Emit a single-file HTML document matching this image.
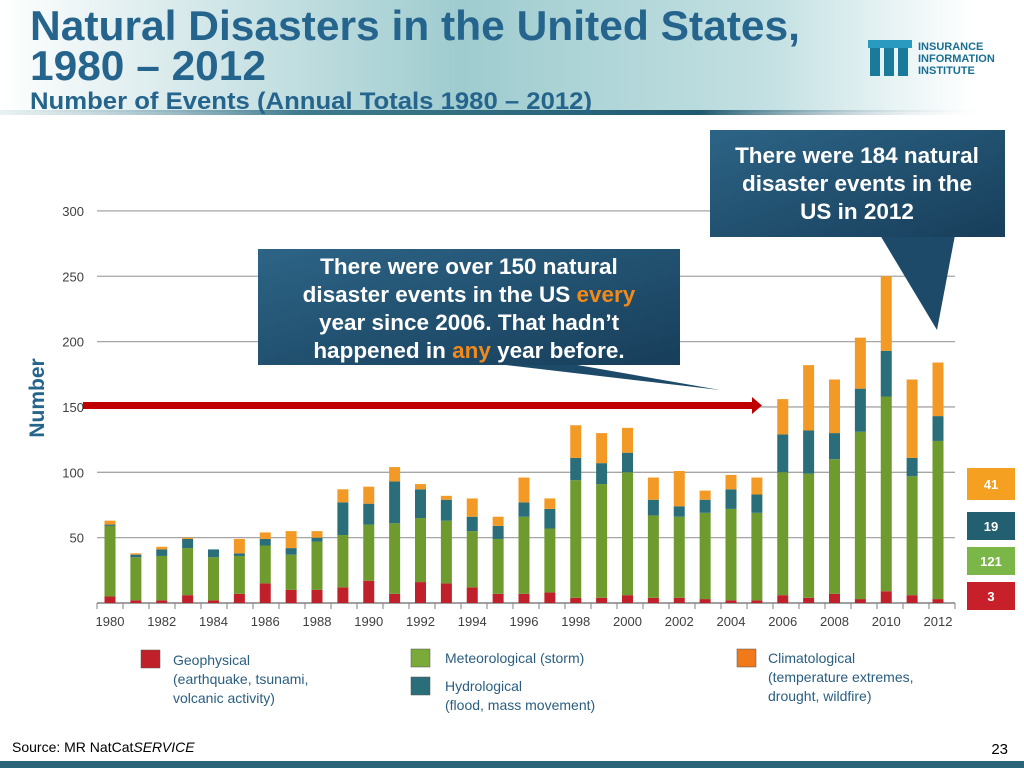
<!DOCTYPE html>
<html><head><meta charset="utf-8"><style>
body{margin:0;width:1024px;height:768px;overflow:hidden;background:#fff;font-family:"Liberation Sans",sans-serif}
</style></head><body>
<svg id="s" width="1024" height="768" viewBox="0 0 1024 768" xmlns="http://www.w3.org/2000/svg" font-family="Liberation Sans, sans-serif">
<defs>
<linearGradient id="hdr" x1="0" x2="1" y1="0" y2="0">
<stop offset="0" stop-color="#ffffff"/><stop offset="0.12" stop-color="#e4f0f1"/><stop offset="0.45" stop-color="#9fcccf"/><stop offset="0.75" stop-color="#c3e0e2"/><stop offset="0.95" stop-color="#ffffff"/>
</linearGradient>
<linearGradient id="hline" x1="0" x2="1"><stop offset="0" stop-color="#b8d0d6" stop-opacity="0.3"/><stop offset="0.3" stop-color="#3f7a8e"/><stop offset="0.7" stop-color="#1f5a70"/><stop offset="1" stop-color="#ffffff" stop-opacity="0"/></linearGradient>
<linearGradient id="box" x1="0" x2="1" y1="0" y2="1"><stop offset="0" stop-color="#2d6486"/><stop offset="1" stop-color="#173e5a"/></linearGradient>
</defs>
<rect x="0" y="0" width="1024" height="112" fill="url(#hdr)"/>
<rect x="0" y="110" width="1000" height="5" fill="url(#hline)"/>
<text x="30" y="40" font-size="42" font-weight="bold" fill="#25648c" textLength="770" lengthAdjust="spacingAndGlyphs">Natural Disasters in the United States,</text>
<text x="30" y="80" font-size="42" font-weight="bold" fill="#25648c" textLength="236" lengthAdjust="spacingAndGlyphs">1980 – 2012</text>
<text x="30" y="109" font-size="24" font-weight="bold" fill="#25648c" textLength="562" lengthAdjust="spacingAndGlyphs">Number of Events (Annual Totals 1980 – 2012)</text>
<g>
<rect x="870" y="40" width="10" height="36" fill="#1a7a9a"/><rect x="884" y="40" width="10" height="36" fill="#1a7a9a"/><rect x="898" y="40" width="10" height="36" fill="#1a7a9a"/>
<rect x="868" y="40" width="44" height="8" fill="#2a9ac0"/>
<text x="918" y="50" font-size="11" font-weight="bold" fill="#1a6f92">INSURANCE</text>
<text x="918" y="62" font-size="11" font-weight="bold" fill="#1a6f92">INFORMATION</text>
<text x="918" y="74" font-size="11" font-weight="bold" fill="#1a6f92">INSTITUTE</text>
</g>
<g id="chart"></g>
<text transform="translate(44,398) rotate(-90)" text-anchor="middle" font-size="21" font-weight="bold" fill="#25648c">Number</text>
<g id="legend">
<g><rect x="141" y="650" width="19" height="18" fill="#c0202a" stroke="#555" stroke-width="0.5"/><text font-size="14" fill="#2a5e80"><tspan x="173" y="665">Geophysical</tspan><tspan x="173" y="684">(earthquake, tsunami,</tspan><tspan x="173" y="703">volcanic activity)</tspan></text></g>
<g><rect x="411" y="649" width="19" height="18" fill="#7aaa3a" stroke="#555" stroke-width="0.5"/><text x="445" y="663" font-size="14" fill="#2a5e80">Meteorological (storm)</text></g>
<g><rect x="411" y="677" width="19" height="18" fill="#2a6e7a" stroke="#555" stroke-width="0.5"/><text font-size="14" fill="#2a5e80"><tspan x="445" y="691">Hydrological</tspan><tspan x="445" y="710">(flood, mass movement)</tspan></text></g>
<g><rect x="737" y="649" width="19" height="18" fill="#f07a1a" stroke="#555" stroke-width="0.5"/><text font-size="14" fill="#2a5e80"><tspan x="768" y="663">Climatological</tspan><tspan x="768" y="682">(temperature extremes,</tspan><tspan x="768" y="701">drought, wildfire)</tspan></text></g>
</g>
<g>
<rect x="967" y="468" width="48" height="32" fill="#f5a020"/><text x="991" y="489" text-anchor="middle" font-size="13" font-weight="bold" fill="#fff">41</text>
<rect x="967" y="512" width="48" height="28" fill="#225f70"/><text x="991" y="531" text-anchor="middle" font-size="13" font-weight="bold" fill="#fff">19</text>
<rect x="967" y="547" width="48" height="28" fill="#7ab648"/><text x="991" y="566" text-anchor="middle" font-size="13" font-weight="bold" fill="#fff">121</text>
<rect x="967" y="582" width="48" height="28" fill="#c8202a"/><text x="991" y="601" text-anchor="middle" font-size="13" font-weight="bold" fill="#fff">3</text>
</g>
<g>
<polygon points="480,362 560,362 720,390" fill="#1c4a68"/>
<rect x="258" y="249" width="422" height="116" fill="url(#box)"/>
<text font-size="22.5" font-weight="bold" fill="#fff" text-anchor="middle"><tspan x="469" y="274">There were over 150 natural</tspan><tspan x="469" y="302">disaster events in the US <tspan fill="#f28a1a">every</tspan></tspan><tspan x="469" y="330">year since 2006. That hadn’t</tspan><tspan x="469" y="358">happened in <tspan fill="#f28a1a">any</tspan> year before.</tspan></text>
</g>
<g>
<polygon points="880,235 955,235 937,330" fill="#1c4a68"/>
<rect x="710" y="130" width="295" height="107" fill="url(#box)"/>
<text font-size="22.5" font-weight="bold" fill="#fff" text-anchor="middle"><tspan x="857" y="163">There were 184 natural</tspan><tspan x="857" y="191">disaster events in the</tspan><tspan x="857" y="219">US in 2012</tspan></text>
</g>
<g><rect x="83" y="402" width="670" height="7" fill="#c00000"/><polygon points="752,397 762,405.5 752,414" fill="#c00000"/></g>
<text x="12" y="752" font-size="14" fill="#000">Source: MR NatCat<tspan font-style="italic">SERVICE</tspan></text>
<text x="1008" y="754" font-size="15" fill="#000" text-anchor="end">23</text>
<rect x="0" y="761" width="1024" height="7" fill="#2a6478"/>
</svg>
<script>
const years=[1980,1981,1982,1983,1984,1985,1986,1987,1988,1989,1990,1991,1992,1993,1994,1995,1996,1997,1998,1999,2000,2001,2002,2003,2004,2005,2006,2007,2008,2009,2010,2011,2012];
const geophysical=[5,2,2,6,2,7,15,10,10,12,17,7,16,15,12,7,7,8,4,4,6,4,4,3,2,2,6,4,7,3,9,6,3];
const meteorological=[54,33,34,36,33,29,29,27,37,40,43,54,49,48,43,42,59,49,90,87,94,63,62,66,70,67,94,95,103,128,149,91,121];
const hydrological=[1,2,5,7,6,2,5,5,3,25,16,32,22,16,11,10,11,15,17,16,15,12,8,10,15,14,29,33,20,33,35,14,19];
const climatological=[3,1,2,1,0,11,5,13,5,10,13,11,4,3,14,7,19,8,25,23,19,17,27,7,11,13,27,50,41,39,57,60,41];
const yTicks=[50,100,150,200,250,300];
const xTickLabels=[1980,1982,1984,1986,1988,1990,1992,1994,1996,1998,2000,2002,2004,2006,2008,2010,2012];
const NS='http://www.w3.org/2000/svg';
const g=document.getElementById('chart');
const y0=603,pxPer=1.307,xL=97,xR=955;
const yScale=v=>y0-v*pxPer;
const xScale=yr=>110+(yr-1980)*25.875;
function mk(t,a){const e=document.createElementNS(NS,t);for(const k in a)e.setAttribute(k,a[k]);g.appendChild(e);return e;}
yTicks.forEach(v=>{
 const l=mk('line',{x1:xL,x2:xR,y1:yScale(v),y2:yScale(v),stroke:'#a6a6a6','stroke-width':1.3});
 
 
 const t=mk('text',{x:84,y:yScale(v)+5,'text-anchor':'end','font-size':13,fill:'#404040'});t.textContent=v;
 
 
});
const ax=mk('line',{x1:xL,x2:xR,y1:y0,y2:y0,stroke:'#808080','stroke-width':1.5});


for(let i=0;i<=33;i++){const x=xL+i*(xR-xL)/33;mk('line',{x1:x,x2:x,y1:y0,y2:y0+6,stroke:'#808080'});}
xTickLabels.forEach(yr=>{const t=mk('text',{x:xScale(yr),y:626,'text-anchor':'middle','font-size':13,fill:'#404040'});t.textContent=yr;
 
 });
const series=[['geophysical',geophysical,'#c0202a'],['meteorological',meteorological,'#6e9a2e'],['hydrological',hydrological,'#2a6e7a'],['climatological',climatological,'#f39a26']];
years.forEach((yr,i)=>{let c=0;series.forEach(([n,arr,col])=>{const v=arr[i];if(v>0){
 const r=mk('rect',{x:xScale(yr)-5.5,width:11,y:yScale(c+v),height:v*pxPer,fill:col});
 
 }
 c+=v;});});
</script>
</body></html>
